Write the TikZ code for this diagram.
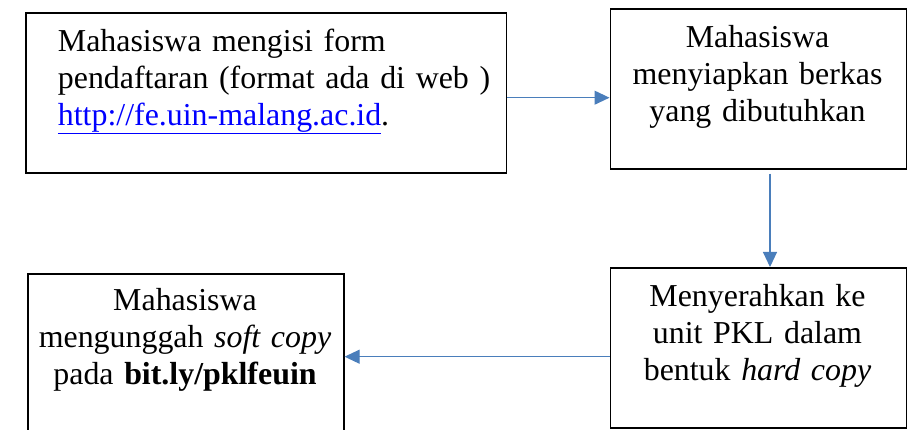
\documentclass[tikz,border=0pt]{standalone}
\usepackage{fontspec}
\setmainfont{Liberation Serif}
\usetikzlibrary{arrows.meta}
\definecolor{arrowblue}{RGB}{74,126,187}
\definecolor{linkblue}{RGB}{0,0,255}
\tikzset{
  stepbox/.style={draw=black, line width=1.6pt, rectangle, inner sep=0pt},
  steptext/.style={inner sep=0pt, font=\fontsize{31.9}{36.7}\selectfont},
  flow/.style={draw=arrowblue, line width=1.1pt, -{Triangle[length=15pt,width=14pt]}}
}
\begin{document}
\begin{tikzpicture}[x=1pt,y=-1pt]
\clip (0,0) rectangle (907,430);
\fill[white] (0,0) rectangle (907,430);
% boxes
\node[stepbox, minimum width=480.5pt, minimum height=160.5pt, anchor=north west] (b1) at (25,12) {};
\node[stepbox, minimum width=296pt, minimum height=160pt, anchor=north west] (b2) at (609.5,8) {};
\node[stepbox, minimum width=296pt, minimum height=160pt, anchor=north west] (b3) at (609.5,267) {};
\node[stepbox, minimum width=316pt, minimum height=180pt, anchor=north west] (b4) at (27,273) {};
% texts
\node[steptext, text width=440pt, align=left, anchor=base west] (t1) at (57.7,51.7)
  {Mahasiswa mengisi form\\pendaftaran (format ada di web )\\{\color{linkblue}\underline{http://fe.uin-malang.ac.id}}.};
\node[steptext, text width=290pt, align=center, anchor=base] (t2) at (757.5,47.7)
  {Mahasiswa\\menyiapkan berkas\\yang dibutuhkan};
\node[steptext, text width=290pt, align=center, anchor=base] (t3) at (757.5,306.7)
  {Menyerahkan ke\\unit PKL dalam\\bentuk \textit{hard copy}};
\node[steptext, text width=310pt, align=center, anchor=base] (t4) at (185,310.7)
  {Mahasiswa\\mengunggah \textit{soft copy}\\pada \textbf{bit.ly/pklfeuin}};
% connectors
\coordinate (h1) at (0,97.7);
\coordinate (v1) at (770,0);
\coordinate (h2) at (0,356.7);
\draw[flow] (b1.east |- h1) -- (b2.west |- h1);
\draw[flow, shorten <=4pt] (v1 |- b2.south) -- (v1 |- b3.north);
\draw[flow] (b3.west |- h2) -- (b4.east |- h2);
\end{tikzpicture}
\end{document}
